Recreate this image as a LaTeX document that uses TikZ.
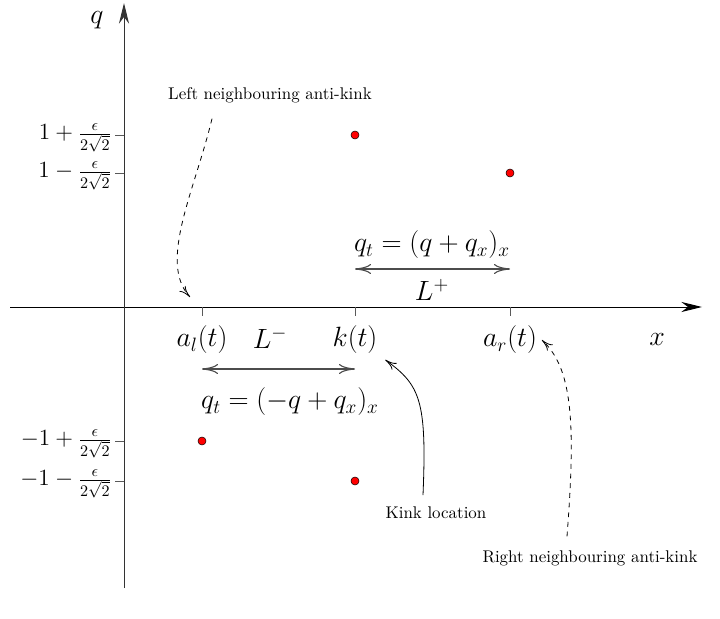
\documentclass[tikz,border=0pt]{standalone}
\usepackage{amsmath,amssymb}
\usepackage{tikz}
\usetikzlibrary{arrows.meta,positioning,calc}
\tikzset{
  axis/.style={line width=0.6pt, -{Stealth[length=4.5mm,width=2.2mm]}},
  tickmark/.style={line width=0.5pt, gray!70!black},
  kinkdot/.style={circle, draw=black, fill=red, line width=0.3pt, inner sep=0pt, minimum size=5pt},
  span/.style={line width=0.7pt, gray!60!black, {To[length=3.5mm,width=2.2mm]}-{To[length=3.5mm,width=2.2mm]}},
  pointer/.style={line width=0.5pt, -{To[length=2.5mm,width=1.8mm]}},
  lbl/.style={font=\fontsize{18}{21}\selectfont, inner sep=1pt},
  ticklbl/.style={font=\fontsize{14.5}{17}\selectfont, inner sep=0pt, anchor=east},
  note/.style={font=\fontsize{10.5}{12}\selectfont, inner sep=1pt}
}
\begin{document}
\begin{tikzpicture}[x=0.62pt, y=-0.62pt]
  \useasboundingbox (0,0) rectangle (720,619);

  % axes
  \coordinate (xs) at (10,307);
  \coordinate (xe) at (702,307);
  \coordinate (ys) at (124,588);
  \coordinate (ye) at (124,3);
  \draw[axis] (xs) -- (xe);
  \draw[axis, gray!40!black] (ys) -- (ye);
  \node[lbl] (qlab) at (97,20) {$q$};
  \node[lbl] (xlab) at (657,340) {$x$};

  % ticks on the q axis
  \foreach \name/\yy/\txt in {pp/135/{1+\frac{\epsilon}{2\sqrt{2}}},
                              pm/173/{1-\frac{\epsilon}{2\sqrt{2}}},
                              mp/441/{-1+\frac{\epsilon}{2\sqrt{2}}},
                              mm/481/{-1-\frac{\epsilon}{2\sqrt{2}}}}{
    \coordinate (t\name) at (124,\yy);
    \draw[tickmark] (t\name) -- ++(-9,0);
    \node[ticklbl] (v\name) at (112,\yy+3) {$\txt$};
  }

  % ticks on the x axis
  \foreach \name/\xx in {al/202, kk/355, ar/510}{
    \coordinate (t\name) at (\xx,307);
    \draw[tickmark] (t\name) -- ++(0,9);
  }
  \node[lbl] (al) at (202,340) {$a_l(t)$};
  \node[lbl] (kk) at (355,340) {$k(t)$};
  \node[lbl] (ar) at (510,340) {$a_r(t)$};

  % kink and anti-kink values
  \node[kinkdot] (d1) at (355,135) {};
  \node[kinkdot] (d2) at (510,173) {};
  \node[kinkdot] (d3) at (202,441) {};
  \node[kinkdot] (d4) at (355,481) {};

  % the two regions
  \coordinate (lm1) at (202,369);
  \coordinate (lm2) at (355,369);
  \draw[span] (lm1) -- (lm2);
  \node[lbl] (lminus) at (270,338) {$L^-$};
  \node[lbl] (eqm) at (290,402) {$q_t=(-q+q_x)_x$};

  \coordinate (lp1) at (355,269);
  \coordinate (lp2) at (510,269);
  \draw[span] (lp1) -- (lp2);
  \node[lbl] (lplus) at (432,290) {$L^+$};
  \node[lbl] (eqp) at (432,245) {$q_t=(q+q_x)_x$};

  % annotations
  \node[note] (lnote) at (270,95) {Left neighbouring anti-kink};
  \node[note] (knote) at (436,513) {Kink location};
  \node[note] (rnote) at (590,558) {Right neighbouring anti-kink};

  \draw[pointer, dashed] ([xshift=-58*0.62pt, yshift=-14*0.62pt]lnote.south)
    .. controls (195,190) and (158,262) .. (190,297);
  \draw[pointer] ([xshift=-13*0.62pt, yshift=10*0.62pt]knote.north)
    .. controls (427,400) and (420,385) .. ([xshift=6*0.62pt, yshift=-4*0.62pt]kk.south east);
  \draw[pointer, dashed] ([xshift=-23*0.62pt, yshift=12*0.62pt]rnote.north)
    .. controls (576,420) and (572,368) .. ([xshift=3*0.62pt]ar.east);
\end{tikzpicture}
\end{document}
